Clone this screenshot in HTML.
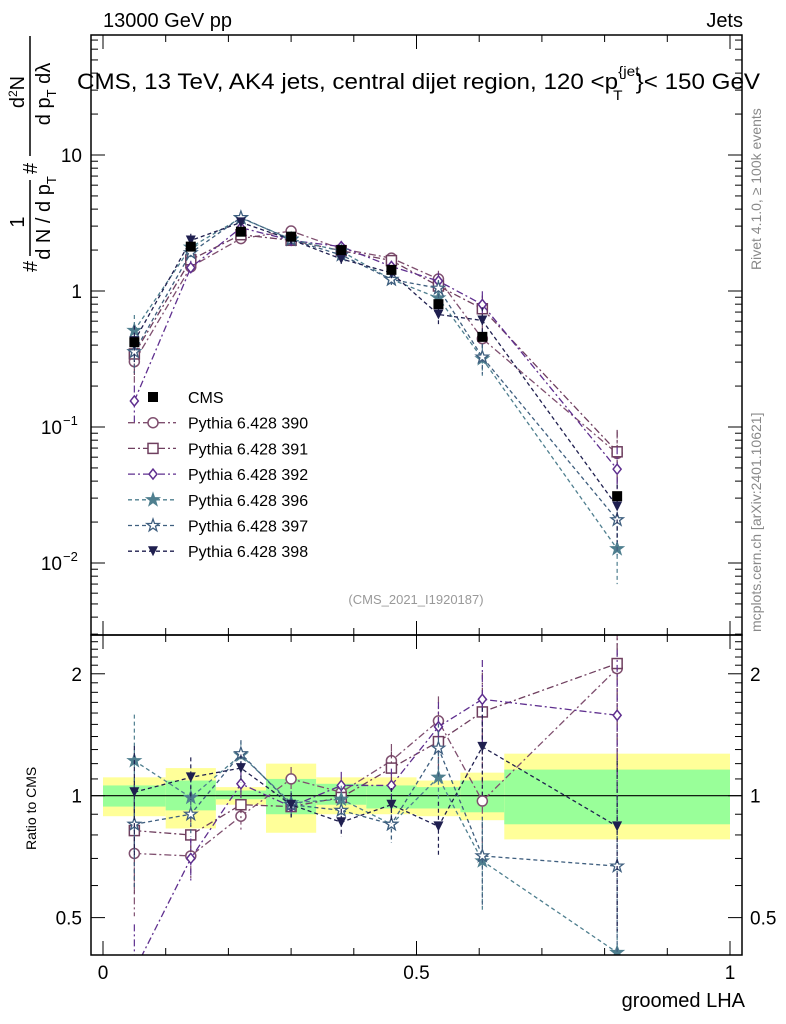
<!DOCTYPE html>
<html><head><meta charset="utf-8"><style>
html,body{margin:0;padding:0;background:#fff;}
svg{display:block;font-family:"Liberation Sans",sans-serif;}
</style></head><body>
<svg id="chart" width="786" height="1024" viewBox="0 0 786 1024" xmlns="http://www.w3.org/2000/svg">
<rect x="0" y="0" width="786" height="1024" fill="#fff"/>
<g id="bands"></g>
<g id="series"></g>
<g id="frames"></g>
<text x="103" y="27" font-size="20">13000 GeV pp</text>
<text x="743" y="27" font-size="20" text-anchor="end">Jets</text>
<text transform="translate(77,89) scale(1.1,1)" x="0" y="0" font-size="22">CMS, 13 TeV, AK4 jets, central dijet region, 120 &lt;p<tspan font-size="14" dy="-13">{jet</tspan><tspan font-size="14" dx="-24" dy="24">T</tspan><tspan dx="12" dy="-11">}&lt; 150 GeV</tspan></text>
<text x="416" y="604" font-size="13" fill="#999" text-anchor="middle">(CMS_2021_I1920187)</text>
<text transform="translate(761,270) rotate(-90)" font-size="14" fill="#888">Rivet 4.1.0, ≥ 100k events</text>
<text transform="translate(761,632) rotate(-90)" font-size="14" fill="#888">mcplots.cern.ch [arXiv:2401.10621]</text>
<g transform="translate(30,272) rotate(-90)" font-size="20">
 <text x="0" y="7">#</text>
 <text x="50" y="-6" text-anchor="middle">1</text>
 <line x1="16" x2="92" y1="0" y2="0" stroke="#000" stroke-width="1.5"/>
 <text x="54" y="20" text-anchor="middle">d N / d p<tspan font-size="13" dy="6">T</tspan></text>
 <text x="98" y="7">#</text>
 <text x="180" y="-6" text-anchor="middle">d<tspan font-size="12" dy="-7">2</tspan><tspan dy="7">N</tspan></text>
 <line x1="116" x2="236" y1="0" y2="0" stroke="#000" stroke-width="1.5"/>
 <text x="178" y="20" text-anchor="middle">d p<tspan font-size="13" dy="6">T</tspan><tspan dy="-6"> dλ</tspan></text>
</g>
<text transform="translate(36,850) rotate(-90)" font-size="14">Ratio to CMS</text>
<text x="745" y="1007" font-size="20" text-anchor="end">groomed LHA</text>
<g id="legend"></g>
</svg>
<script>
const xCenters=[0.05,0.14,0.22,0.30,0.38,0.46,0.535,0.605,0.82];
const binEdges=[0,0.1,0.18,0.26,0.34,0.42,0.5,0.57,0.64,1.0];
const cmsValues=[0.42,2.12,2.73,2.51,2.0,1.43,0.80,0.46,0.031];
const ratio390=[0.72,0.71,0.89,1.10,1.02,1.22,1.53,0.97,2.06];
const ratio391=[0.82,0.80,0.95,0.94,0.99,1.17,1.36,1.61,2.12];
const ratio392=[0.37,0.70,1.07,0.94,1.06,1.06,1.48,1.73,1.58];
const ratio396=[1.22,0.99,1.26,0.96,0.98,0.85,1.11,0.69,0.41];
const ratio397=[0.85,0.90,1.27,0.95,0.92,0.85,1.31,0.71,0.67];
const ratio398=[1.02,1.11,1.17,0.95,0.86,0.95,0.84,1.32,0.84];
const relErr=[0.3,0.12,0.08,0.07,0.08,0.1,0.15,0.25,0.45];
const bandGreenUp=[1.06,1.09,1.03,1.10,1.07,1.06,1.05,1.09,1.16];
const bandGreenLo=[0.94,0.92,0.98,0.90,0.95,0.93,0.93,0.91,0.85];
const bandYellowUp=[1.11,1.17,1.05,1.20,1.11,1.11,1.09,1.14,1.27];
const bandYellowLo=[0.89,0.83,0.95,0.81,0.90,0.90,0.89,0.87,0.78];

const NS="http://www.w3.org/2000/svg";
const X=v=>103+627*v;
const YT=v=>291-136*Math.log10(v);
const YR=v=>795.7-405*Math.log10(v);
const L=91,R=742,T1=35,B1=635,T2=635,B2=955;
function el(tag,attrs,parent){const e=document.createElementNS(NS,tag);for(const k in attrs)e.setAttribute(k,attrs[k]);parent.appendChild(e);return e;}
const gB=document.getElementById('bands'),gS=document.getElementById('series'),gF=document.getElementById('frames'),gL=document.getElementById('legend');

for(let i=0;i<xCenters.length;i++){
  const x0=X(binEdges[i]),x1=X(binEdges[i+1]);
  const y=el('rect',{x:x0,y:YR(bandYellowUp[i]),width:x1-x0,height:YR(bandYellowLo[i])-YR(bandYellowUp[i]),fill:'#ffff99'},gB);
  
  
  const g=el('rect',{x:x0,y:YR(bandGreenUp[i]),width:x1-x0,height:YR(bandGreenLo[i])-YR(bandGreenUp[i]),fill:'#99ff99'},gB);
  
  
}
el('line',{x1:L,x2:R,y1:YR(1),y2:YR(1),stroke:'#000','stroke-width':1.2},gB);

function frame(t,b){el('rect',{x:L,y:t,width:R-L,height:b-t,fill:'none',stroke:'#000','stroke-width':1.5},gF);}
frame(T1,B1);frame(T2,B2);
for(let v=0;v<=1.0001;v+=0.1){
  const major=Math.abs(v*2-Math.round(v*2))<1e-6;const len=major?14:7;const x=X(v);
  el('line',{x1:x,x2:x,y1:B2,y2:B2-len,stroke:'#000'},gF);
  el('line',{x1:x,x2:x,y1:T2,y2:T2+len,stroke:'#000'},gF);
  el('line',{x1:x,x2:x,y1:B1,y2:B1-len,stroke:'#000'},gF);
  el('line',{x1:x,x2:x,y1:T1,y2:T1+len,stroke:'#000'},gF);
}
const xTickLabels=['0','0.5','1'];
[0,0.5,1].forEach((v,i)=>{const t=el('text',{x:X(v),y:979,'font-size':19,'text-anchor':'middle'},gF);t.textContent=xTickLabels[i];

});
for(let d=-3;d<=1;d++){for(let m=1;m<10;m++){const v=m*Math.pow(10,d);const y=YT(v);if(y<T1||y>B1)continue;const len=m==1?14:7;
el('line',{x1:L,x2:L+len,y1:y,y2:y,stroke:'#000'},gF);el('line',{x1:R,x2:R-len,y1:y,y2:y,stroke:'#000'},gF);}}
const yTickVals=[10,1,0.1,0.01];
const yTickBase=['10','1','10','10'];
const yTickExp=['','','−1','−2'];
yTickVals.forEach((v,i)=>{const t=el('text',{x:yTickExp[i]?62:82,y:YT(v)+7,'font-size':19,'text-anchor':'end'},gF);t.textContent=yTickBase[i];


if(yTickExp[i]){const s=el('text',{x:63,y:YT(v)-2,'font-size':13},gF);s.textContent=yTickExp[i];}});
const rTicks=[0.5,0.6,0.7,0.8,0.9,1,1.1,1.2,1.3,1.4,1.5,1.6,1.7,1.8,1.9,2,2.1,2.2,2.3,2.4];
rTicks.forEach(v=>{const y=YR(v);const len=(v==0.5||v==1||v==2)?14:7;
el('line',{x1:L,x2:L+len,y1:y,y2:y,stroke:'#000'},gF);el('line',{x1:R,x2:R-len,y1:y,y2:y,stroke:'#000'},gF);});
const rLabels=['0.5','1','2'];
[0.5,1,2].forEach((v,i)=>{const t=el('text',{x:82,y:YR(v)+7,'font-size':19,'text-anchor':'end'},gF);t.textContent=rLabels[i];


const t2=el('text',{x:750,y:YR(v)+7,'font-size':19},gF);t2.textContent=rLabels[i];});

function marker(type,x,y,c,p){
  if(type=='circle')return el('circle',{cx:x,cy:y,r:5,fill:'#fff',stroke:c,'stroke-width':1.5},p);
  if(type=='square')return el('rect',{x:x-5,y:y-5,width:10,height:10,fill:'#fff',stroke:c,'stroke-width':1.5},p);
  if(type=='diamond')return el('polygon',{points:`${x},${y-5} ${x+4},${y} ${x},${y+5} ${x-4},${y}`,fill:'#fff',stroke:c,'stroke-width':1.5},p);
  if(type=='cms')return el('rect',{x:x-5,y:y-5,width:10,height:10,fill:'#000'},p);
  if(type=='tri')return el('polygon',{points:`${x-5},${y-5} ${x+5},${y-5} ${x},${y+5}`,fill:c},p);
  const pts=[];for(let k=0;k<10;k++){const a=-Math.PI/2+k*Math.PI/5;const r=k%2?2.6:6.5;pts.push((x+r*Math.cos(a)).toFixed(1)+','+(y+r*Math.sin(a)).toFixed(1));}
  return el('polygon',{points:pts.join(' '),fill:type=='starf'?c:'#fff',stroke:c,'stroke-width':1.3},p);
}
const seriesDefs=[
 {n:'390',r:ratio390,c:'#7f4f6f',m:'circle',d:'7,3,2,3'},
 {n:'391',r:ratio391,c:'#6f3f5f',m:'square',d:'7,3,2,3'},
 {n:'392',r:ratio392,c:'#5f2f8f',m:'diamond',d:'7,3,2,3'},
 {n:'396',r:ratio396,c:'#4f7f8f',m:'starf',d:'4,3'},
 {n:'397',r:ratio397,c:'#3f5f7f',m:'star',d:'4,3'},
 {n:'398',r:ratio398,c:'#1f1f4f',m:'tri',d:'4,3'}];
function clipRect(id,t,b){const cp=el('clipPath',{id:id},gS);el('rect',{x:L,y:t,width:R-L,height:b-t},cp);}
clipRect('c1',T1,B1);clipRect('c2',T2,B2);
seriesDefs.forEach(s=>{
  const g=el('g',{'clip-path':'url(#c1)'},gS);
  
  
  const g2=el('g',{'clip-path':'url(#c2)'},gS);
  
  
  const vals=s.r.map((r,i)=>r*cmsValues[i]);
  el('polyline',{points:vals.map((v,i)=>X(xCenters[i])+','+YT(v)).join(' '),fill:'none',stroke:s.c,'stroke-width':1.3,'stroke-dasharray':s.d},g);
  el('polyline',{points:s.r.map((v,i)=>X(xCenters[i])+','+YR(v)).join(' '),fill:'none',stroke:s.c,'stroke-width':1.3,'stroke-dasharray':s.d},g2);
  vals.forEach((v,i)=>{const x=X(xCenters[i]);const e=relErr[i];
    el('line',{x1:x,x2:x,y1:YT(v*(1+e)),y2:YT(Math.max(v*(1-e),1e-4)),stroke:s.c,'stroke-width':1.2,'stroke-dasharray':s.d},g);
    el('line',{x1:x,x2:x,y1:YR(s.r[i]*(1+e)),y2:YR(Math.max(s.r[i]*(1-e),0.1)),stroke:s.c,'stroke-width':1.2,'stroke-dasharray':s.d},g2);
    const m=marker(s.m,x,YT(v),s.c,g);
    
    
    const m2=marker(s.m,x,YR(s.r[i]),s.c,g2);
    
    
  });
});
cmsValues.forEach((v,i)=>{const m=marker('cms',X(xCenters[i]),YT(v),'#000',gS);

});

const legendNames=['CMS','Pythia 6.428 390','Pythia 6.428 391','Pythia 6.428 392','Pythia 6.428 396','Pythia 6.428 397','Pythia 6.428 398'];
legendNames.forEach((nm,i)=>{const y=397+25.7*i;
  const g=el('g',{},gL);
  
  
  if(i==0){marker('cms',153,y,'#000',g);}
  else{const s=seriesDefs[i-1];el('line',{x1:128,x2:176,y1:y,y2:y,stroke:s.c,'stroke-width':1.3,'stroke-dasharray':s.d},g);marker(s.m,153,y,s.c,g);}
  const t=el('text',{x:188,y:y+6,'font-size':16},g);t.textContent=nm;
});
</script>
</body></html>
